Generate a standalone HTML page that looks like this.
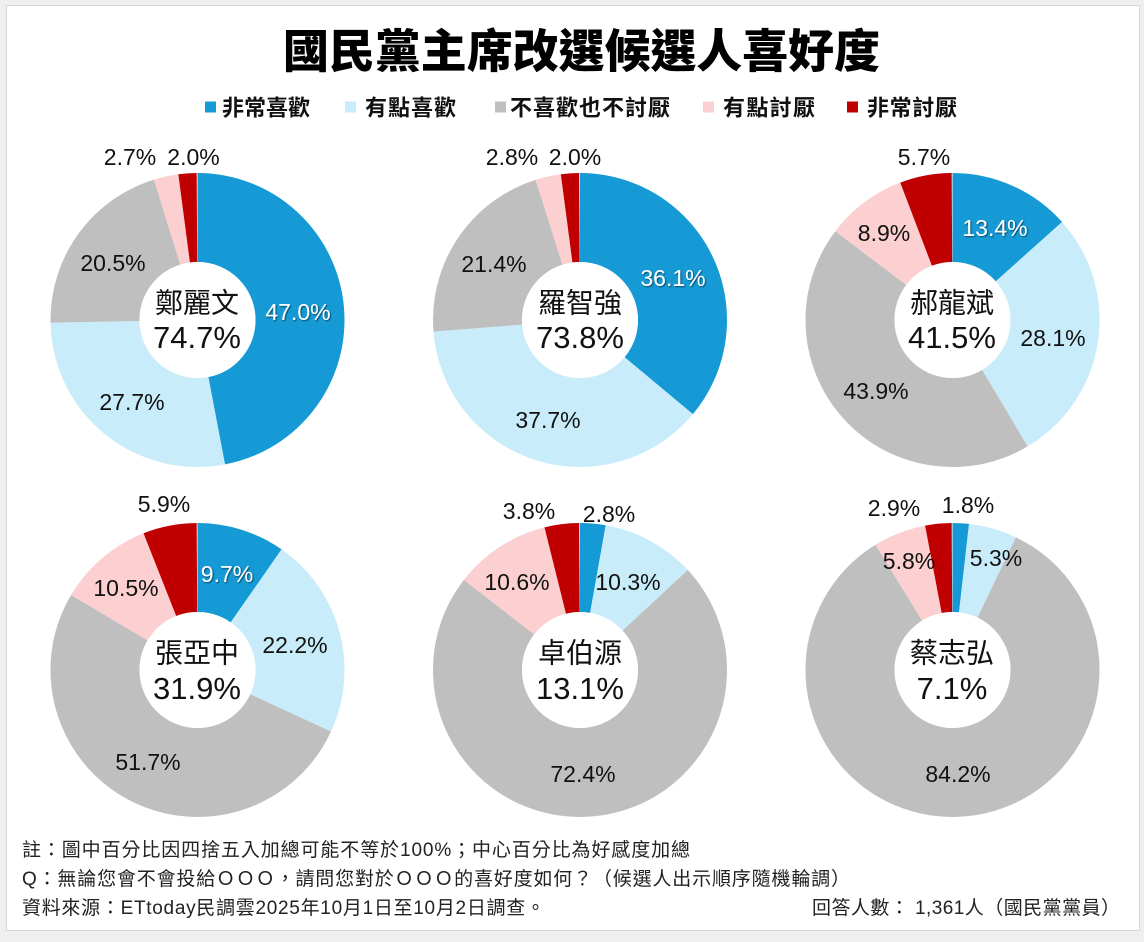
<!DOCTYPE html>
<html>
<head>
<meta charset="utf-8">
<style>
html,body{margin:0;padding:0;background:#efefef;}
svg{display:block;}
.lb{font-family:"Liberation Sans","Noto Sans CJK TC",sans-serif;font-size:23px;fill:#111;text-anchor:middle;}
.wh{fill:#fff;filter:url(#sh);}
.nm{font-family:"Liberation Sans","Noto Sans CJK TC",sans-serif;font-size:28px;fill:#111;text-anchor:middle;}
.pc{font-family:"Liberation Sans","Noto Sans CJK TC",sans-serif;font-size:31px;fill:#111;text-anchor:middle;}
.lg{font-family:"Liberation Sans","Noto Sans CJK TC",sans-serif;font-size:22px;font-weight:700;fill:#111;}
.ft{font-family:"Liberation Sans","Noto Sans CJK TC",sans-serif;font-size:19px;fill:#222;}
</style>
</head>
<body>
<svg width="1144" height="942" viewBox="0 0 1144 942" xmlns="http://www.w3.org/2000/svg">
<defs>
<filter id="sh" x="-20%" y="-30%" width="140%" height="160%">
<feDropShadow dx="1" dy="1" stdDeviation="0.8" flood-color="#000" flood-opacity="0.55"/>
</filter>
</defs>
<rect x="0" y="0" width="1144" height="942" fill="#efefef"/>
<rect x="6.5" y="5.5" width="1133" height="925" fill="#fff" stroke="#d6d6d6" stroke-width="1"/>

<!-- Title -->
<text x="581.5" y="67.5" text-anchor="middle" textLength="597" lengthAdjust="spacingAndGlyphs" style="font-family:'Liberation Sans','Noto Sans CJK TC',sans-serif;font-size:46px;font-weight:900;fill:#000;">國民黨主席改選候選人喜好度</text>

<!-- Legend -->
<rect x="205" y="101.5" width="11" height="11" fill="#159ad5"/>
<text class="lg" x="222" y="115.4" textLength="88">非常喜歡</text>
<rect x="345" y="101.5" width="11" height="11" fill="#c8ecfa"/>
<text class="lg" x="365" y="115.4" textLength="91">有點喜歡</text>
<rect x="495" y="101.5" width="11" height="11" fill="#bfbfbf"/>
<text class="lg" x="510" y="115.4" textLength="160">不喜歡也不討厭</text>
<rect x="703" y="101.5" width="11" height="11" fill="#fccfd0"/>
<text class="lg" x="723" y="115.4" textLength="92">有點討厭</text>
<rect x="847" y="101.5" width="11" height="11" fill="#c00000"/>
<text class="lg" x="867" y="115.4" textLength="90">非常討厭</text>

<!-- Donut 1 -->
<g transform="rotate(-90 197.5 320)" fill="none" stroke-width="89">
<circle cx="197.5" cy="320" r="102.5" pathLength="99.9" stroke="#159ad5" stroke-dasharray="47.0 99.9" stroke-dashoffset="0"/>
<circle cx="197.5" cy="320" r="102.5" pathLength="99.9" stroke="#c8ecfa" stroke-dasharray="27.7 99.9" stroke-dashoffset="-47.0"/>
<circle cx="197.5" cy="320" r="102.5" pathLength="99.9" stroke="#bfbfbf" stroke-dasharray="20.5 99.9" stroke-dashoffset="-74.7"/>
<circle cx="197.5" cy="320" r="102.5" pathLength="99.9" stroke="#fccfd0" stroke-dasharray="2.7 99.9" stroke-dashoffset="-95.2"/>
<circle cx="197.5" cy="320" r="102.5" pathLength="99.9" stroke="#c00000" stroke-dasharray="2.0 99.9" stroke-dashoffset="-97.9"/>
</g>
<circle cx="197.5" cy="320" r="58" fill="#fff"/>
<text class="lb" x="130" y="165.2">2.7%</text>
<text class="lb" x="193.5" y="165.2">2.0%</text>
<text class="lb" x="113" y="271.2">20.5%</text>
<text class="lb wh" x="298" y="320.2">47.0%</text>
<text class="lb" x="132" y="410.2">27.7%</text>
<text class="nm" x="197" y="312.6">鄭麗文</text>
<text class="pc" x="197" y="348.1">74.7%</text>

<!-- Donut 2 -->
<g transform="rotate(-90 580 320)" fill="none" stroke-width="89">
<circle cx="580" cy="320" r="102.5" pathLength="100" stroke="#159ad5" stroke-dasharray="36.1 100" stroke-dashoffset="0"/>
<circle cx="580" cy="320" r="102.5" pathLength="100" stroke="#c8ecfa" stroke-dasharray="37.7 100" stroke-dashoffset="-36.1"/>
<circle cx="580" cy="320" r="102.5" pathLength="100" stroke="#bfbfbf" stroke-dasharray="21.4 100" stroke-dashoffset="-73.8"/>
<circle cx="580" cy="320" r="102.5" pathLength="100" stroke="#fccfd0" stroke-dasharray="2.8 100" stroke-dashoffset="-95.2"/>
<circle cx="580" cy="320" r="102.5" pathLength="100" stroke="#c00000" stroke-dasharray="2.0 100" stroke-dashoffset="-98.0"/>
</g>
<circle cx="580" cy="320" r="58" fill="#fff"/>
<text class="lb" x="512" y="165.2">2.8%</text>
<text class="lb" x="575" y="165.2">2.0%</text>
<text class="lb" x="494" y="272.2">21.4%</text>
<text class="lb wh" x="673" y="286.2">36.1%</text>
<text class="lb" x="548" y="428.2">37.7%</text>
<text class="nm" x="580" y="312.6">羅智強</text>
<text class="pc" x="580" y="348.1">73.8%</text>

<!-- Donut 3 -->
<g transform="rotate(-90 952.5 320)" fill="none" stroke-width="89">
<circle cx="952.5" cy="320" r="102.5" pathLength="100" stroke="#159ad5" stroke-dasharray="13.4 100" stroke-dashoffset="0"/>
<circle cx="952.5" cy="320" r="102.5" pathLength="100" stroke="#c8ecfa" stroke-dasharray="28.1 100" stroke-dashoffset="-13.4"/>
<circle cx="952.5" cy="320" r="102.5" pathLength="100" stroke="#bfbfbf" stroke-dasharray="43.9 100" stroke-dashoffset="-41.5"/>
<circle cx="952.5" cy="320" r="102.5" pathLength="100" stroke="#fccfd0" stroke-dasharray="8.9 100" stroke-dashoffset="-85.4"/>
<circle cx="952.5" cy="320" r="102.5" pathLength="100" stroke="#c00000" stroke-dasharray="5.7 100" stroke-dashoffset="-94.3"/>
</g>
<circle cx="952.5" cy="320" r="58" fill="#fff"/>
<text class="lb" x="924" y="165.2">5.7%</text>
<text class="lb wh" x="995" y="236.2">13.4%</text>
<text class="lb" x="884" y="241.2">8.9%</text>
<text class="lb" x="1053" y="346.2">28.1%</text>
<text class="lb" x="876" y="399.2">43.9%</text>
<text class="nm" x="952" y="312.6">郝龍斌</text>
<text class="pc" x="952" y="348.1">41.5%</text>

<!-- Donut 4 -->
<g transform="rotate(-90 197.5 670)" fill="none" stroke-width="89">
<circle cx="197.5" cy="670" r="102.5" pathLength="100" stroke="#159ad5" stroke-dasharray="9.7 100" stroke-dashoffset="0"/>
<circle cx="197.5" cy="670" r="102.5" pathLength="100" stroke="#c8ecfa" stroke-dasharray="22.2 100" stroke-dashoffset="-9.7"/>
<circle cx="197.5" cy="670" r="102.5" pathLength="100" stroke="#bfbfbf" stroke-dasharray="51.7 100" stroke-dashoffset="-31.9"/>
<circle cx="197.5" cy="670" r="102.5" pathLength="100" stroke="#fccfd0" stroke-dasharray="10.5 100" stroke-dashoffset="-83.6"/>
<circle cx="197.5" cy="670" r="102.5" pathLength="100" stroke="#c00000" stroke-dasharray="5.9 100" stroke-dashoffset="-94.1"/>
</g>
<circle cx="197.5" cy="670" r="58" fill="#fff"/>
<text class="lb" x="164" y="512.2">5.9%</text>
<text class="lb wh" x="227" y="582.2">9.7%</text>
<text class="lb" x="126" y="596.2">10.5%</text>
<text class="lb" x="295" y="653.2">22.2%</text>
<text class="lb" x="148" y="770.2">51.7%</text>
<text class="nm" x="197" y="662.6">張亞中</text>
<text class="pc" x="197" y="699.1">31.9%</text>

<!-- Donut 5 -->
<g transform="rotate(-90 580 670)" fill="none" stroke-width="89">
<circle cx="580" cy="670" r="102.5" pathLength="99.9" stroke="#159ad5" stroke-dasharray="2.8 99.9" stroke-dashoffset="0"/>
<circle cx="580" cy="670" r="102.5" pathLength="99.9" stroke="#c8ecfa" stroke-dasharray="10.3 99.9" stroke-dashoffset="-2.8"/>
<circle cx="580" cy="670" r="102.5" pathLength="99.9" stroke="#bfbfbf" stroke-dasharray="72.4 99.9" stroke-dashoffset="-13.1"/>
<circle cx="580" cy="670" r="102.5" pathLength="99.9" stroke="#fccfd0" stroke-dasharray="10.6 99.9" stroke-dashoffset="-85.5"/>
<circle cx="580" cy="670" r="102.5" pathLength="99.9" stroke="#c00000" stroke-dasharray="3.8 99.9" stroke-dashoffset="-96.1"/>
</g>
<circle cx="580" cy="670" r="58" fill="#fff"/>
<text class="lb" x="529" y="519.2">3.8%</text>
<text class="lb" x="609" y="522.2">2.8%</text>
<text class="lb" x="517" y="590.2">10.6%</text>
<text class="lb" x="628" y="590.2">10.3%</text>
<text class="lb" x="583" y="782.2">72.4%</text>
<text class="nm" x="580" y="662.6">卓伯源</text>
<text class="pc" x="580" y="699.1">13.1%</text>

<!-- Donut 6 -->
<g transform="rotate(-90 952.5 670)" fill="none" stroke-width="89">
<circle cx="952.5" cy="670" r="102.5" pathLength="100" stroke="#159ad5" stroke-dasharray="1.8 100" stroke-dashoffset="0"/>
<circle cx="952.5" cy="670" r="102.5" pathLength="100" stroke="#c8ecfa" stroke-dasharray="5.3 100" stroke-dashoffset="-1.8"/>
<circle cx="952.5" cy="670" r="102.5" pathLength="100" stroke="#bfbfbf" stroke-dasharray="84.2 100" stroke-dashoffset="-7.1"/>
<circle cx="952.5" cy="670" r="102.5" pathLength="100" stroke="#fccfd0" stroke-dasharray="5.8 100" stroke-dashoffset="-91.3"/>
<circle cx="952.5" cy="670" r="102.5" pathLength="100" stroke="#c00000" stroke-dasharray="2.9 100" stroke-dashoffset="-97.1"/>
</g>
<circle cx="952.5" cy="670" r="58" fill="#fff"/>
<text class="lb" x="894" y="516.2">2.9%</text>
<text class="lb" x="968" y="513.2">1.8%</text>
<text class="lb" x="909" y="569.2">5.8%</text>
<text class="lb" x="996" y="566.2">5.3%</text>
<text class="lb" x="958" y="782.2">84.2%</text>
<text class="nm" x="952" y="662.6">蔡志弘</text>
<text class="pc" x="952" y="699.1">7.1%</text>

<!-- Footer -->
<text class="ft" x="22" y="856" textLength="668">註：圖中百分比因四捨五入加總可能不等於100%；中心百分比為好感度加總</text>
<text class="ft" x="22" y="885" textLength="828">Q：無論您會不會投給ＯＯＯ，請問您對於ＯＯＯ的喜好度如何？（候選人出示順序隨機輪調）</text>
<text class="ft" x="22" y="914" textLength="523">資料來源：ETtoday民調雲2025年10月1日至10月2日調查。</text>
<text class="ft" x="812" y="914" textLength="308">回答人數： 1,361人（國民黨黨員）</text>
</svg>
</body>
</html>
